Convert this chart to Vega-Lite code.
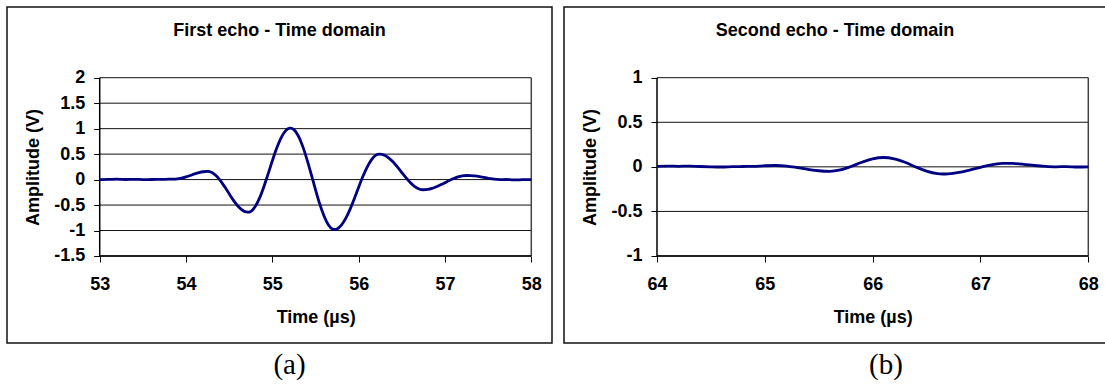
{
  "$schema": "https://vega.github.io/schema/vega-lite/v6.json",
  "background": "white",
  "padding": {"left": 6, "top": 6, "right": 0, "bottom": 0},
  "spacing": 10,
  "datasets": {
    "echo1": [
      {"t": 53.0, "v": 0}, {"t": 53.1, "v": 0.003}, {"t": 53.2, "v": 0.008}, {"t": 53.3, "v": 0.002},
      {"t": 53.4, "v": 0.006}, {"t": 53.5, "v": 0}, {"t": 53.6, "v": 0.002}, {"t": 53.7, "v": 0.003},
      {"t": 53.8, "v": 0.008}, {"t": 53.85, "v": 0.01}, {"t": 53.9, "v": 0.016}, {"t": 53.95, "v": 0.028},
      {"t": 54.0, "v": 0.052}, {"t": 54.05, "v": 0.08}, {"t": 54.1, "v": 0.111}, {"t": 54.15, "v": 0.137},
      {"t": 54.2, "v": 0.154}, {"t": 54.25, "v": 0.16}, {"t": 54.3, "v": 0.138}, {"t": 54.35, "v": 0.074},
      {"t": 54.4, "v": -0.025}, {"t": 54.45, "v": -0.147}, {"t": 54.5, "v": -0.28}, {"t": 54.55, "v": -0.408},
      {"t": 54.6, "v": -0.518}, {"t": 54.65, "v": -0.597}, {"t": 54.7, "v": -0.636}, {"t": 54.72, "v": -0.64},
      {"t": 54.75, "v": -0.625}, {"t": 54.8, "v": -0.534}, {"t": 54.85, "v": -0.37}, {"t": 54.9, "v": -0.149},
      {"t": 54.95, "v": 0.106}, {"t": 55.0, "v": 0.369}, {"t": 55.05, "v": 0.613}, {"t": 55.1, "v": 0.814},
      {"t": 55.15, "v": 0.95}, {"t": 55.2, "v": 1.008}, {"t": 55.21, "v": 1.01}, {"t": 55.25, "v": 0.98},
      {"t": 55.3, "v": 0.861}, {"t": 55.35, "v": 0.662}, {"t": 55.4, "v": 0.403}, {"t": 55.45, "v": 0.107},
      {"t": 55.5, "v": -0.198}, {"t": 55.55, "v": -0.483}, {"t": 55.6, "v": -0.72}, {"t": 55.65, "v": -0.89},
      {"t": 55.7, "v": -0.972}, {"t": 55.72, "v": -0.98}, {"t": 55.75, "v": -0.968}, {"t": 55.8, "v": -0.895},
      {"t": 55.85, "v": -0.763}, {"t": 55.9, "v": -0.584}, {"t": 55.95, "v": -0.374}, {"t": 56.0, "v": -0.151},
      {"t": 56.05, "v": 0.064}, {"t": 56.1, "v": 0.251}, {"t": 56.15, "v": 0.393}, {"t": 56.2, "v": 0.479},
      {"t": 56.24, "v": 0.5}, {"t": 56.3, "v": 0.476}, {"t": 56.35, "v": 0.423}, {"t": 56.4, "v": 0.344},
      {"t": 56.45, "v": 0.246}, {"t": 56.5, "v": 0.139}, {"t": 56.55, "v": 0.034}, {"t": 56.6, "v": -0.061},
      {"t": 56.65, "v": -0.136}, {"t": 56.7, "v": -0.184}, {"t": 56.75, "v": -0.2}, {"t": 56.8, "v": -0.193},
      {"t": 56.85, "v": -0.173}, {"t": 56.9, "v": -0.142}, {"t": 56.95, "v": -0.103}, {"t": 57.0, "v": -0.06},
      {"t": 57.05, "v": -0.017}, {"t": 57.1, "v": 0.022}, {"t": 57.15, "v": 0.053}, {"t": 57.2, "v": 0.073},
      {"t": 57.25, "v": 0.08}, {"t": 57.3, "v": 0.078}, {"t": 57.35, "v": 0.072}, {"t": 57.4, "v": 0.058},
      {"t": 57.45, "v": 0.042}, {"t": 57.5, "v": 0.026}, {"t": 57.55, "v": 0.014}, {"t": 57.6, "v": 0.006},
      {"t": 57.65, "v": 0.0}, {"t": 57.7, "v": 0.002}, {"t": 57.8, "v": -0.006}, {"t": 57.9, "v": -0.002},
      {"t": 58.0, "v": 0.0}
    ],
    "echo2": [
      {"t": 64.0, "v": 0.005}, {"t": 64.1, "v": 0.008}, {"t": 64.2, "v": 0.006}, {"t": 64.3, "v": 0.009},
      {"t": 64.4, "v": 0.004}, {"t": 64.5, "v": 0.0}, {"t": 64.6, "v": -0.002}, {"t": 64.7, "v": 0.002},
      {"t": 64.8, "v": 0.004}, {"t": 64.9, "v": 0.006}, {"t": 65.0, "v": 0.012}, {"t": 65.1, "v": 0.015},
      {"t": 65.2, "v": 0.009}, {"t": 65.3, "v": -0.008}, {"t": 65.4, "v": -0.028}, {"t": 65.5, "v": -0.044},
      {"t": 65.6, "v": -0.05}, {"t": 65.7, "v": -0.035}, {"t": 65.8, "v": 0.004}, {"t": 65.9, "v": 0.051},
      {"t": 66.0, "v": 0.09}, {"t": 66.1, "v": 0.105}, {"t": 66.2, "v": 0.09}, {"t": 66.3, "v": 0.051},
      {"t": 66.4, "v": -0.001}, {"t": 66.5, "v": -0.048}, {"t": 66.6, "v": -0.076}, {"t": 66.65, "v": -0.08},
      {"t": 66.7, "v": -0.078}, {"t": 66.8, "v": -0.062}, {"t": 66.9, "v": -0.036}, {"t": 67.0, "v": -0.005},
      {"t": 67.1, "v": 0.022}, {"t": 67.2, "v": 0.038}, {"t": 67.25, "v": 0.04}, {"t": 67.3, "v": 0.038},
      {"t": 67.4, "v": 0.028}, {"t": 67.5, "v": 0.015}, {"t": 67.6, "v": 0.005}, {"t": 67.7, "v": 0.0},
      {"t": 67.8, "v": 0.003}, {"t": 67.9, "v": -0.002}, {"t": 68.0, "v": 0.0}
    ],
    "gridA": [
      {"level": -1.5}, {"level": -1}, {"level": -0.5}, {"level": 0},
      {"level": 0.5}, {"level": 1}, {"level": 1.5}, {"level": 2}
    ],
    "gridB": [
      {"level": -1}, {"level": -0.5}, {"level": 0}, {"level": 0.5}, {"level": 1}
    ],
    "one": [{"n": 1}]
  },
  "hconcat": [
    {
      "title": {"text": "(a)", "orient": "bottom", "anchor": "middle", "frame": "bounds", "font": "Liberation Serif", "fontSize": 29, "fontWeight": "normal", "color": "#000", "offset": 7, "dx": 10},
      "vconcat": [
        {
          "width": 545,
          "height": 336,
          "title": {"text": "First echo - Time domain", "anchor": "middle", "font": "Liberation Sans", "fontSize": 18, "fontWeight": "bold", "color": "#000", "baseline": "alphabetic", "offset": -47},
          "layer": [
            {
              "data": {"name": "gridA"},
              "mark": {"type": "rule", "color": "#111", "strokeWidth": 1},
              "encoding": {
                "y": {"field": "level", "type": "quantitative", "scale": {"domain": [-3.208, 3.388], "nice": false, "zero": false}},
                "x": {"datum": 53, "type": "quantitative", "scale": {"domain": [51.926, 58.24], "nice": false, "zero": false}},
                "x2": {"datum": 58}
              }
            },
            {
              "data": {"name": "one"},
              "mark": {"type": "rule", "color": "#000", "strokeWidth": 1.5},
              "encoding": {
                "x": {"datum": 53, "type": "quantitative"},
                "y": {"datum": -1.5, "type": "quantitative"},
                "y2": {"datum": 2}
              }
            },
            {
              "data": {"name": "one"},
              "mark": {"type": "rule", "color": "#444", "strokeWidth": 1.5},
              "encoding": {
                "x": {"datum": 58, "type": "quantitative"},
                "y": {"datum": -1.5, "type": "quantitative"},
                "y2": {"datum": 2}
              }
            },
            {
              "data": {"name": "one"},
              "mark": {"type": "rule", "color": "#000", "strokeWidth": 1.5},
              "encoding": {
                "x": {"datum": 53, "type": "quantitative"},
                "x2": {"datum": 58},
                "y": {"datum": -1.5, "type": "quantitative"}
              }
            },
            {
              "data": {"name": "echo1"},
              "mark": {"type": "line", "color": "#000080", "strokeWidth": 2.8, "interpolate": "monotone"},
              "encoding": {
                "x": {"field": "t", "type": "quantitative",
                  "axis": {"values": [53, 54, 55, 56, 57, 58], "offset": -87, "domain": false, "grid": false, "tickSize": 6, "tickColor": "#000", "tickWidth": 1, "labelPadding": 13, "labelFlush": false, "labelOverlap": false, "labelExpr": "'' + datum.value", "labelFont": "Liberation Sans", "labelFontSize": 18, "labelFontWeight": "bold", "labelColor": "#000", "title": "Time (µs)", "titleFont": "Liberation Sans", "titleFontSize": 18, "titleFontWeight": "bold", "titleColor": "#000", "titlePadding": 15, "titleX": 308.7}},
                "y": {"field": "v", "type": "quantitative",
                  "axis": {"values": [-1.5, -1, -0.5, 0, 0.5, 1, 1.5, 2], "offset": -92.7, "domain": false, "grid": false, "tickSize": 6, "tickColor": "#000", "tickWidth": 1, "labelPadding": 9, "labelOverlap": false, "labelFlush": false, "labelExpr": "'' + datum.value", "labelFont": "Liberation Sans", "labelFontSize": 18, "labelFontWeight": "bold", "labelColor": "#000", "title": "Amplitude (V)", "titleFont": "Liberation Sans", "titleFontSize": 18, "titleFontWeight": "bold", "titleColor": "#000", "titlePadding": 11, "titleY": 160}}
              }
            }
          ]
        }
      ]
    },
    {
      "title": {"text": "(b)", "orient": "bottom", "anchor": "middle", "frame": "bounds", "font": "Liberation Serif", "fontSize": 29, "fontWeight": "normal", "color": "#000", "offset": 7, "dx": 51},
      "vconcat": [
        {
          "width": 542,
          "height": 336,
          "title": {"text": "Second echo - Time domain", "anchor": "middle", "font": "Liberation Sans", "fontSize": 18, "fontWeight": "bold", "color": "#000", "baseline": "alphabetic", "offset": -47},
          "layer": [
            {
              "data": {"name": "gridB"},
              "mark": {"type": "rule", "color": "#111", "strokeWidth": 1},
              "encoding": {
                "y": {"field": "level", "type": "quantitative", "scale": {"domain": [-1.976, 1.793], "nice": false, "zero": false}},
                "x": {"datum": 64, "type": "quantitative", "scale": {"domain": [63.1375, 68.1641], "nice": false, "zero": false}},
                "x2": {"datum": 68}
              }
            },
            {
              "data": {"name": "one"},
              "mark": {"type": "rule", "color": "#000", "strokeWidth": 1.5},
              "encoding": {
                "x": {"datum": 64, "type": "quantitative"},
                "y": {"datum": -1, "type": "quantitative"},
                "y2": {"datum": 1}
              }
            },
            {
              "data": {"name": "one"},
              "mark": {"type": "rule", "color": "#444", "strokeWidth": 1.5},
              "encoding": {
                "x": {"datum": 68, "type": "quantitative"},
                "y": {"datum": -1, "type": "quantitative"},
                "y2": {"datum": 1}
              }
            },
            {
              "data": {"name": "one"},
              "mark": {"type": "rule", "color": "#000", "strokeWidth": 1.5},
              "encoding": {
                "x": {"datum": 64, "type": "quantitative"},
                "x2": {"datum": 68},
                "y": {"datum": -1, "type": "quantitative"}
              }
            },
            {
              "data": {"name": "echo2"},
              "mark": {"type": "line", "color": "#000080", "strokeWidth": 2.8, "interpolate": "monotone"},
              "encoding": {
                "x": {"field": "t", "type": "quantitative",
                  "axis": {"values": [64, 65, 66, 67, 68], "offset": -87, "domain": false, "grid": false, "tickSize": 6, "tickColor": "#000", "tickWidth": 1, "labelPadding": 13, "labelFlush": false, "labelOverlap": false, "labelExpr": "'' + datum.value", "labelFont": "Liberation Sans", "labelFontSize": 18, "labelFontWeight": "bold", "labelColor": "#000", "title": "Time (µs)", "titleFont": "Liberation Sans", "titleFontSize": 18, "titleFontWeight": "bold", "titleColor": "#000", "titlePadding": 15, "titleX": 308.7}},
                "y": {"field": "v", "type": "quantitative",
                  "axis": {"values": [-1, -0.5, 0, 0.5, 1], "offset": -93, "domain": false, "grid": false, "tickSize": 6, "tickColor": "#000", "tickWidth": 1, "labelPadding": 9, "labelOverlap": false, "labelFlush": false, "labelExpr": "'' + datum.value", "labelFont": "Liberation Sans", "labelFontSize": 18, "labelFontWeight": "bold", "labelColor": "#000", "title": "Amplitude (V)", "titleFont": "Liberation Sans", "titleFontSize": 18, "titleFontWeight": "bold", "titleColor": "#000", "titlePadding": 11, "titleY": 160}}
              }
            }
          ]
        }
      ]
    }
  ],
  "config": {
    "view": {"stroke": "#111", "strokeWidth": 1.5},
    "concat": {"spacing": 0}
  }
}
